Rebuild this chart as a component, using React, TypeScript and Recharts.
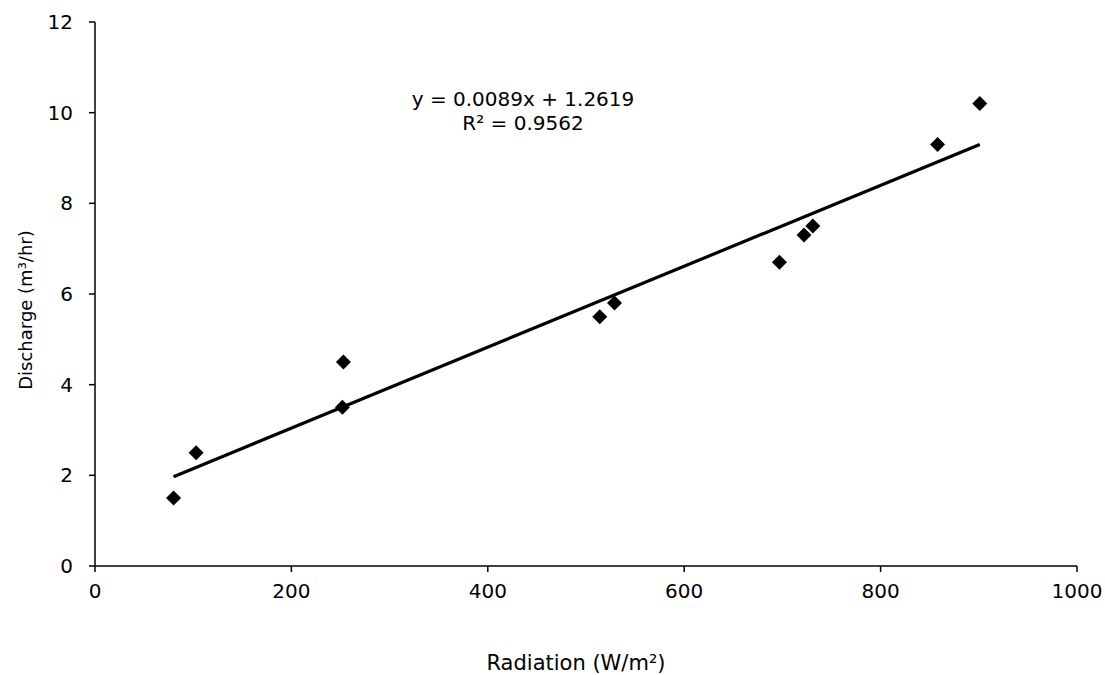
import { Scatter, ScatterChart, XAxis, YAxis } from 'recharts'

// measured points (radiation W/m2, discharge m3/hr)
const radiation = [80, 103, 253, 252, 514, 529, 697, 722, 731, 858, 901]
const discharge = [1.5, 2.5, 4.5, 3.5, 5.5, 5.8, 6.7, 7.3, 7.5, 9.3, 10.2]

// linear trend endpoints, y = 0.0089x + 1.2619 over the data range
const trendX = [80, 901]
const trendY = [1.97, 9.3]

const xTicks = [0, 200, 400, 600, 800, 1000]
const yTicks = [0, 2, 4, 6, 8, 10, 12]

const points = radiation.map((x, i) => ({ x, y: discharge[i] }))
const trend = trendX.map((x, i) => ({ x, y: trendY[i] }))

const font = '"DejaVu Sans", sans-serif'
const tickStyle = { fill: '#000', fontSize: 20, fontFamily: font }

function Diamond(props: any) {
  const { cx, cy } = props
  const r = 7.5
  return <polygon points={`${cx},${cy - r} ${cx + r},${cy} ${cx},${cy + r} ${cx - r},${cy}`} fill="#000" />
}

function XTitle() {
  return (
    <text x={576} y={670} textAnchor="middle" fontSize={21} fontFamily={font} fill="#000">
      Radiation (W/m²)
    </text>
  )
}

function YTitle() {
  return (
    <text x={32} y={310} transform="rotate(-90 32 310)" textAnchor="middle" fontSize={18} fontFamily={font} fill="#000">
      Discharge (m³/hr)
    </text>
  )
}

export default function App() {
  return (
    <div style={{ position: 'absolute', left: 0, top: 0, width: 1105, height: 675, background: '#fff' }}>
      <ScatterChart width={1105} height={675} margin={{ top: 22, right: 28, bottom: 69, left: 35 }}>
        <XAxis
          type="number"
          dataKey="x"
          domain={[0, 1000]}
          ticks={xTicks}
          tick={tickStyle}
          tickSize={6}
          tickMargin={12}
          height={40}
          stroke="#000"
          strokeWidth={1.5}
          label={XTitle}
        />
        <YAxis
          type="number"
          dataKey="y"
          domain={[0, 12]}
          ticks={yTicks}
          tick={tickStyle}
          tickSize={6}
          tickMargin={16}
          width={60}
          stroke="#000"
          strokeWidth={1.5}
          label={YTitle}
        />
        <Scatter data={points} shape={Diamond} isAnimationActive={false} />
        <Scatter
          data={trend}
          line={{ stroke: '#000', strokeWidth: 3.2 }}
          shape={() => <g />}
          isAnimationActive={false}
        />
      </ScatterChart>
      <div
        style={{
          position: 'absolute',
          left: 373,
          top: 87,
          width: 300,
          textAlign: 'center',
          fontFamily: font,
          fontSize: 20,
          lineHeight: '24px',
          color: '#000',
        }}
      >
        y = 0.0089x + 1.2619
        <br />
        R² = 0.9562
      </div>
    </div>
  )
}
